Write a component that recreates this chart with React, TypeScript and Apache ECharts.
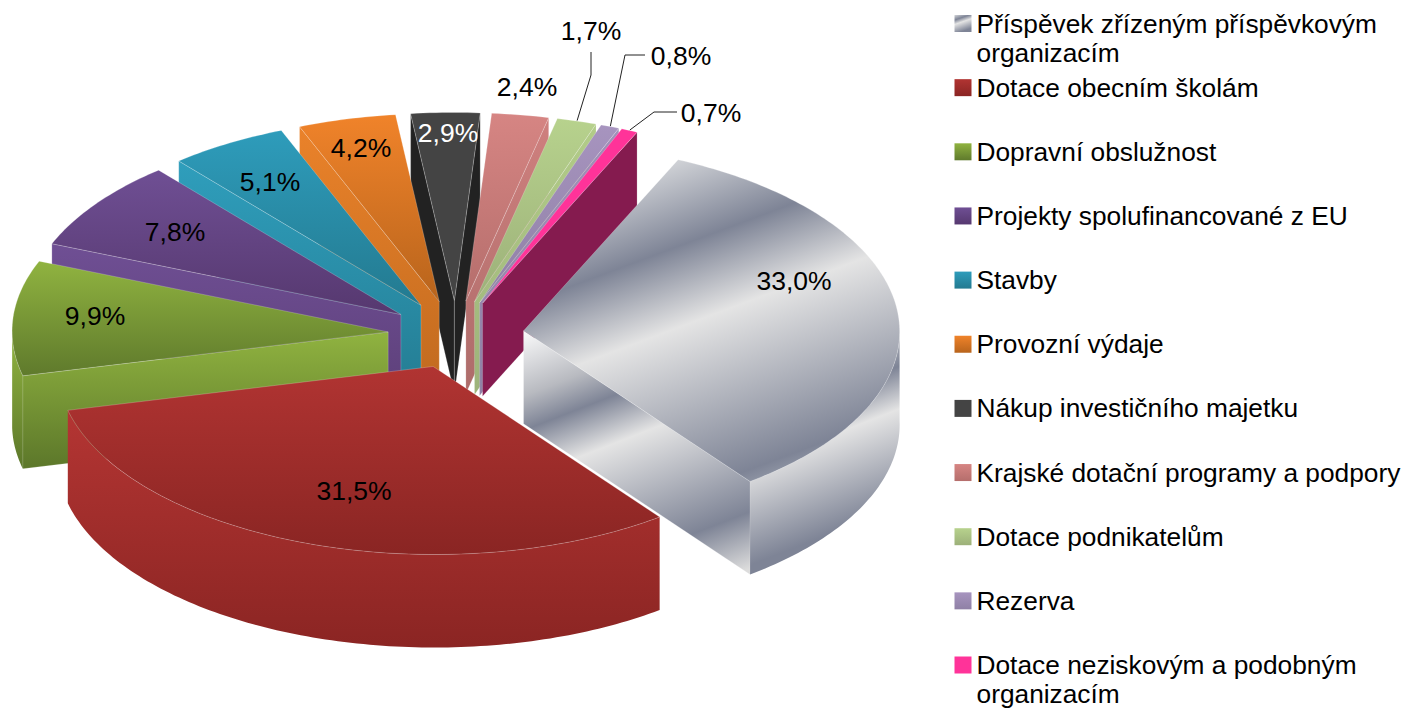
import React, { useEffect, useRef } from "react";
import * as echarts from "echarts";

const categories = [
  "Příspěvek zřízeným příspěvkovým organizacím",
  "Dotace obecním školám",
  "Dopravní obslužnost",
  "Projekty spolufinancované z EU",
  "Stavby",
  "Provozní výdaje",
  "Nákup investičního majetku",
  "Krajské dotační programy a podpory",
  "Dotace podnikatelům",
  "Rezerva",
  "Dotace neziskovým a podobným organizacím",
];
// Shares; they round to the printed one-decimal labels
const shares = [32.96, 31.46, 9.88, 7.78, 5.08, 4.2, 2.949, 2.44, 1.7, 0.8, 0.7];

// painter's order (back to front) of the slices, by category index
const paintOrder = [6, 5, 4, 3, 2, 7, 8, 9, 10, 0, 1];

// [top face from, top face to, wall from, wall to]
const tones = [
  ["#d2d4d8", "#7e8496", "#e4e4e4", "#7e8496"],
  ["#b13432", "#8a2523", "#b43533", "#8b2523"],
  ["#90b340", "#5f7a2c", "#90b340", "#5c772a"],
  ["#6f4f94", "#56386f", "#6f4f94", "#5c3f78"],
  ["#2e9cbb", "#237a90", "#2f9ebc", "#247c92"],
  ["#f0832a", "#b8641c", "#ea822a", "#c06a1f"],
  ["#444444", "#444444", "#222222", "#222222"],
  ["#d68583", "#b56e6c", "#cf807e", "#ad6c6a"],
  ["#b7d28d", "#9cb079", "#b2cc88", "#9db37a"],
  ["#a794bf", "#8f80a5", "#a08fb8", "#8f80a5"],
  ["#ff3399", "#ff3399", "#851b4f", "#851b4f"],
];

// label centres, leader elbows (only the three outside labels have leaders)
const labelSpots: [number, number][] = [
  [794, 281], [354, 491], [95, 316], [175, 232], [270, 182], [361, 148],
  [448, 133], [527, 87], [591, 31], [681, 56], [711, 113],
];
const leaders: Record<number, [number, number][]> = {
  8: [[591, 52], [591, 75]],
  9: [[645, 55], [625, 55]],
  10: [[677, 112], [654, 112]],
};

const C = { x: 456, y: 334.5 };
const R = 376;
const TILT = 0.5;
const SHEAR = 0.04;
const SKEW = 0.008;
const DEPTH = 93;
const EXPLODE = 68;
const ROTATION = 25.4;
const FONT = '"Liberation Sans", Arial, sans-serif';
const LEGEND_LEFT = 954.5;
const LEGEND_TOP = 8.5;
const LEGEND_PITCH = 64.15;
const rad = (d: number) => (d * Math.PI) / 180;

const project = (o: { x: number; y: number }, r: number, deg: number, drop = 0): [number, number] => {
  const dx = r * Math.sin(rad(deg));
  const dy = -r * Math.cos(rad(deg)) * TILT;
  return [o.x + dx + SHEAR * dy, o.y + dy - SKEW * dx + drop];
};

const vertical = (a: string, b: string) =>
  new echarts.graphic.LinearGradient(0, 0, 0, 1, [
    { offset: 0, color: a },
    { offset: 1, color: b },
  ]);

// Silver stripes: a gradient running along a unit normal, stops given by distance along it
const stripes = (nx: number, ny: number, stops: [number, string][]) => {
  const t0 = stops[0][0];
  const t1 = stops[stops.length - 1][0];
  return new echarts.graphic.LinearGradient(
    nx * t0, ny * t0, nx * t1, ny * t1,
    stops.map(([t, color]) => ({ offset: (t - t0) / (t1 - t0), color })),
    true,
  );
};
const DARK = "#7e8496";
const LIGHT = "#e4e4e4";
const silverTop = () =>
  stripes(0.35, 0.937, [[385, "#d2d4d8"], [468, DARK], [544, LIGHT], [702, DARK], [712, "#8a90a0"]]);
const silverEndWall = () =>
  stripes(0.36, 0.93, [[495, "#ffffff"], [560, "#b8bac0"], [592, DARK], [637, LIGHT], [750, DARK], [803, "#dcdcdc"]]);
const silverRim = () =>
  stripes(0.36, 0.93, [[634, "#b8bac0"], [668, DARK], [708, LIGHT], [800, DARK]]);

const sliceAngles = () => {
  const total = shares.reduce((s, v) => s + v, 0);
  let at = ROTATION;
  return shares.map((v) => {
    const a = at;
    at += (v / total) * 360;
    return [a, at];
  });
};

const buildSlice = (idx: number, value: number) => {
  const [a, b] = sliceAngles()[idx];
  const tone = tones[idx];
  const silver = idx === 0;
  const mid = (a + b) / 2;
  const apex = (() => {
    const [x, y] = project(C, EXPLODE, mid);
    return { x, y };
  })();
  const arc = (from: number, to: number, drop = 0) => {
    const n = Math.max(2, Math.ceil(Math.abs(to - from)));
    const pts: [number, number][] = [];
    for (let i = 0; i <= n; i++) pts.push(project(apex, R, from + ((to - from) * i) / n, drop));
    return pts;
  };
  const children: any[] = [];
  const wall = (deg: number, fill: any) => {
    const rim = project(apex, R, deg);
    children.push({
      type: "polygon",
      shape: { points: [[apex.x, apex.y], rim, [rim[0], rim[1] + DEPTH], [apex.x, apex.y + DEPTH]] },
      style: { fill, stroke: "rgba(255,255,255,0.3)", lineWidth: 0.6 },
    });
  };
  const wallFill = () => (silver ? silverEndWall() : vertical(tone[2], tone[3]));
  if (Math.sin(rad(a)) < 0) wall(a, wallFill());
  if (Math.sin(rad(b)) > 0) wall(b, wallFill());

  const from = Math.max(a, 90);
  const to = Math.min(b, 270);
  if (to > from) {
    children.push({
      type: "polygon",
      shape: { points: [...arc(from, to), ...arc(to, from, DEPTH)] },
      style: { fill: silver ? silverRim() : vertical(tone[2], tone[3]) },
    });
  }
  children.push({
    type: "polygon",
    shape: { points: [[apex.x, apex.y], ...arc(a, b)] },
    style: {
      fill: silver ? silverTop() : vertical(tone[0], tone[1]),
      stroke: "rgba(255,255,255,0.35)",
      lineWidth: 0.6,
    },
  });
  const spot = labelSpots[idx];
  if (leaders[idx]) {
    children.push({
      type: "polyline",
      shape: { points: [...leaders[idx], project(apex, R + 1, mid)] },
      style: { fill: "none", stroke: "#222222", lineWidth: 1 },
    });
  }
  children.push({
    type: "text",
    x: spot[0],
    y: spot[1],
    style: {
      text: value.toFixed(1).replace(".", ",") + "%",
      fill: idx === 6 ? "#ffffff" : "#000000",
      font: `26.5px ${FONT}`,
      align: "center",
      verticalAlign: "middle",
    },
  });
  return { type: "group", children };
};

const iconFill = (i: number) =>
  i === 0
    ? new echarts.graphic.LinearGradient(0, 0, 0.35, 1, [
        { offset: 0, color: "#d2d4d8" },
        { offset: 0.27, color: DARK },
        { offset: 0.5, color: LIGHT },
        { offset: 1, color: DARK },
      ])
    : vertical(tones[i][0], tones[i][1]);

// The legend shows the first line of a long name; the wrapped word is set under it
const WRAPPED = " organizacím";

export default function App() {
  const ref = useRef<HTMLDivElement>(null);
  useEffect(() => {
    const chart = echarts.init(ref.current!, undefined, { renderer: "svg" });
    chart.setOption({
      animation: false,
      legend: {
        orient: "vertical",
        left: LEGEND_LEFT,
        top: LEGEND_TOP,
        padding: 0,
        height: 700,
        itemWidth: 17,
        itemHeight: 17,
        itemGap: LEGEND_PITCH - 30,
        selectedMode: false,
        icon: "rect",
        data: categories.map((name, i) => ({ name, icon: "rect", itemStyle: { color: iconFill(i) } })),
        formatter: (n: string) => n.replace(WRAPPED, ""),
        textStyle: { fontFamily: FONT, fontSize: 26.3, color: "#000000", lineHeight: 30 },
      },
      graphic: categories
        .map((name, i) => ({ name, i }))
        .filter((c) => c.name.endsWith(WRAPPED))
        .map((c) => ({
          type: "text",
          x: LEGEND_LEFT + 22,
          y: 23.5 + c.i * LEGEND_PITCH + 29,
          style: {
            text: WRAPPED.trim(),
            fill: "#000000",
            font: `26.3px ${FONT}`,
            verticalAlign: "middle",
          },
        })),
      series: categories.map((name, i) => ({
        type: "custom",
        name,
        coordinateSystem: "none",
        silent: true,
        z: 2 + paintOrder.indexOf(i),
        itemStyle: { color: tones[i][0] },
        data: [{ name, value: shares[i] }],
        renderItem: (_p: any, api: any) => buildSlice(i, api.value(0)),
      })),
    });
    return () => chart.dispose();
  }, []);
  return (
    <div
      ref={ref}
      style={{ position: "absolute", left: 0, top: 0, width: 1406, height: 708, background: "#ffffff" }}
    />
  );
}
